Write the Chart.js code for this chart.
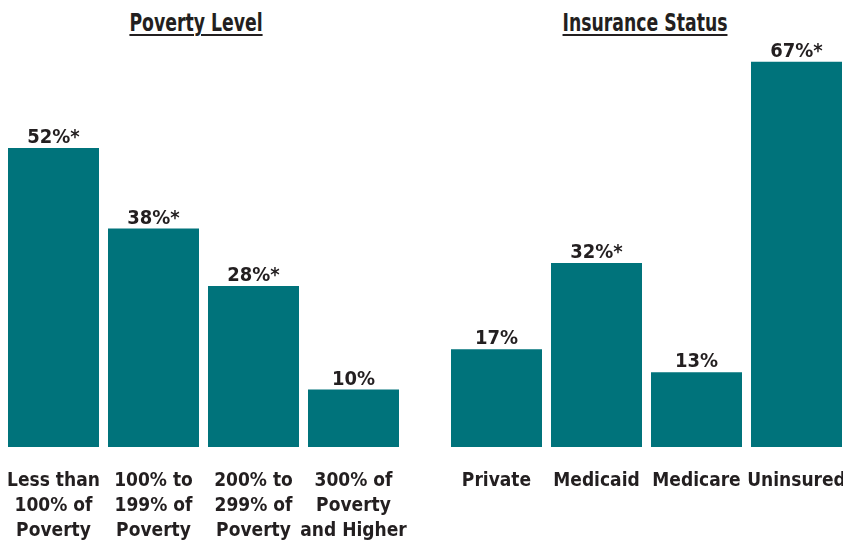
<!DOCTYPE html>
<html>
<head>
<meta charset="utf-8">
<script src="https://cdn.jsdelivr.net/npm/chart.js@4/dist/chart.umd.min.js"></script>
<style>
  html, body { margin: 0; padding: 0; background: #fff; overflow: hidden; }
  body { width: 843px; height: 542px; position: relative; }
  .heading {
    position: absolute; top: 11px; width: 240px; text-align: center;
    font-family: "DejaVu Sans Condensed", "DejaVu Sans", sans-serif;
    font-weight: bold; font-size: 24px; line-height: 24px; color: #231F20;
    text-decoration: underline; text-decoration-thickness: 2px; text-underline-offset: 3px;
    transform: scaleX(0.8);
  }
  canvas { position: absolute; top: 0; }
</style>
</head>
<body>
<div class="heading" style="left:76px">Poverty Level</div>
<div class="heading" style="left:525px">Insurance Status</div>
<canvas id="poverty" width="420" height="560" style="left:0"></canvas>
<canvas id="insurance" width="430" height="560" style="left:430px"></canvas>
<script>
// chart values
const povertyLabels = [
    ["Less than", "100% of", "Poverty"],
    ["100% to", "199% of", "Poverty"],
    ["200% to", "299% of", "Poverty"],
    ["300% of", "Poverty", "and Higher"]
];
const povertyValues = [52, 38, 28, 10];
const povertySignificant = [true, true, true, false];

const insuranceLabels = ["Private", "Medicaid", "Medicare", "Uninsured"];
const insuranceValues = [17, 32, 13, 67];
const insuranceSignificant = [false, true, false, true];

const TEAL = "#00737B";
const INK = "#231F20";
const FONT = '"DejaVu Sans Condensed", "DejaVu Sans", sans-serif';

// value labels above each bar, "*" marks a significant difference
const valueLabels = {
    id: "valueLabels",
    afterDatasetsDraw(chart, args, opts) {
        const ctx = chart.ctx;
        const meta = chart.getDatasetMeta(0);
        const data = chart.data.datasets[0].data;
        ctx.save();
        ctx.font = "bold 20px " + FONT;
        ctx.fillStyle = INK;
        ctx.textAlign = "center";
        ctx.textBaseline = "alphabetic";
        meta.data.forEach(function (bar, i) {
            const text = data[i] + "%" + (opts.flags[i] ? "*" : "");
            ctx.fillText(text, bar.x, bar.y - 5);
        });
        ctx.restore();
    }
};

function makeChart(id, labels, values, flags, padLeft, padRight) {
    return new Chart(document.getElementById(id), {
        type: "bar",
        data: {
            labels: labels,
            datasets: [{
                data: values,
                backgroundColor: TEAL,
                borderWidth: 0,
                barPercentage: 0.91,
                categoryPercentage: 1
            }]
        },
        options: {
            responsive: false,
            animation: false,
            layout: { padding: { top: 44.5, left: padLeft, right: padRight, bottom: 0 } },
            plugins: {
                legend: { display: false },
                tooltip: { enabled: false },
                valueLabels: { flags: flags }
            },
            scales: {
                x: {
                    grid: { display: false, drawTicks: false },
                    border: { display: false },
                    ticks: {
                        color: INK,
                        padding: 22,
                        autoSkip: false,
                        maxRotation: 0,
                        font: { family: FONT, size: 19, weight: "bold", lineHeight: "25px" }
                    },
                    afterFit: function (scale) {
                        // fixed axis band, no extra side room for the wide labels
                        scale.height = 113;
                        scale.paddingLeft = 0;
                        scale.paddingRight = 0;
                    }
                },
                y: { display: false, min: 0, max: 70 }
            }
        },
        plugins: [valueLabels]
    });
}

makeChart("poverty", povertyLabels, povertyValues, povertySignificant, 3.5, 16.5);
makeChart("insurance", insuranceLabels, insuranceValues, insuranceSignificant, 16.5, 13.5);
</script>
</body>
</html>
